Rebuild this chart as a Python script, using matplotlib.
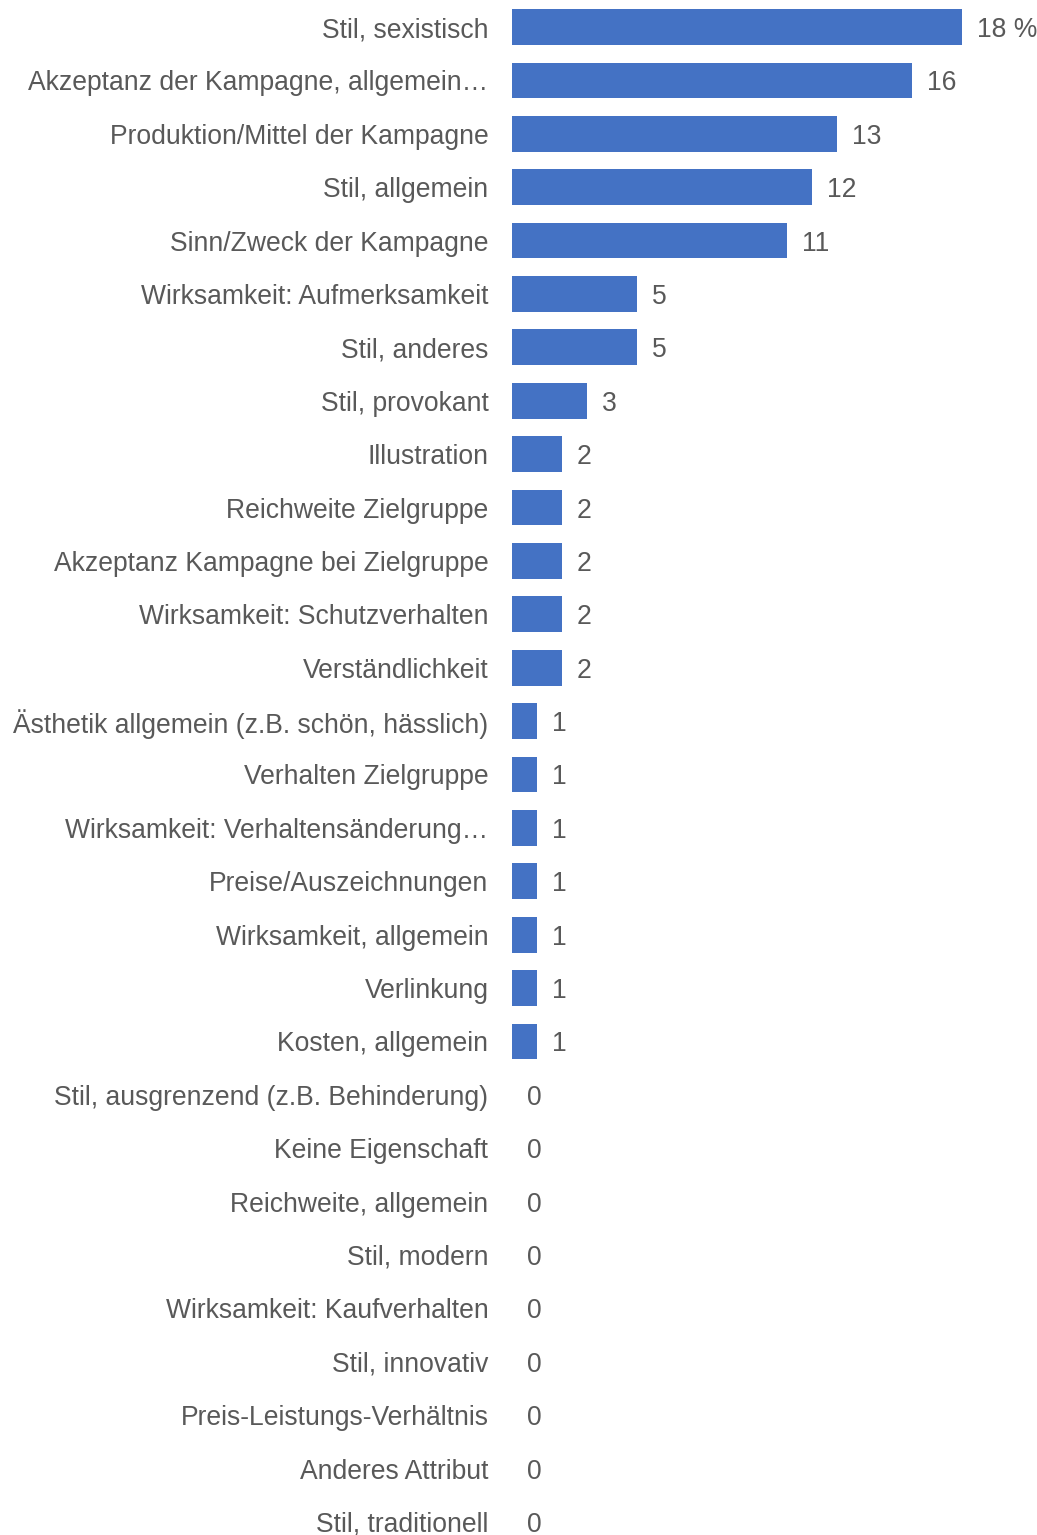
import matplotlib
matplotlib.use("Agg")
import matplotlib.pyplot as plt

categories = [
    "Stil, sexistisch",
    "Akzeptanz der Kampagne, allgemein…",
    "Produktion/Mittel der Kampagne",
    "Stil, allgemein",
    "Sinn/Zweck der Kampagne",
    "Wirksamkeit: Aufmerksamkeit",
    "Stil, anderes",
    "Stil, provokant",
    "Illustration",
    "Reichweite Zielgruppe",
    "Akzeptanz Kampagne bei Zielgruppe",
    "Wirksamkeit: Schutzverhalten",
    "Verständlichkeit",
    "Ästhetik allgemein (z.B. schön, hässlich)",
    "Verhalten Zielgruppe",
    "Wirksamkeit: Verhaltensänderung…",
    "Preise/Auszeichnungen",
    "Wirksamkeit, allgemein",
    "Verlinkung",
    "Kosten, allgemein",
    "Stil, ausgrenzend (z.B. Behinderung)",
    "Keine Eigenschaft",
    "Reichweite, allgemein",
    "Stil, modern",
    "Wirksamkeit: Kaufverhalten",
    "Stil, innovativ",
    "Preis-Leistungs-Verhältnis",
    "Anderes Attribut",
    "Stil, traditionell",
]
values = [18, 16, 13, 12, 11, 5, 5, 3, 2, 2, 2, 2, 2, 1, 1, 1, 1, 1, 1, 1,
          0, 0, 0, 0, 0, 0, 0, 0, 0]
value_labels = [f"{v} %" if i == 0 else str(v) for i, v in enumerate(values)]

plt.rcParams['font.family'] = ['Liberation Sans', 'DejaVu Sans']

fig = plt.figure(figsize=(10.37, 15.35), dpi=100)
ax = fig.add_axes([512 / 1037, 0, 1 - 512 / 1037, 1])

bar_color = "#4472C4"
text_color = "#595959"
fs = 19.1
ypos = list(range(len(categories)))
ax.barh(ypos, values, height=0.67, color=bar_color)

for y, v, lab in zip(ypos, values, value_labels):
    ax.annotate(lab, xy=(v, y), xytext=(10.5, 0), textcoords="offset points",
                ha="left", va="center_baseline", fontsize=fs, color=text_color)

ax.set_yticks(ypos)
ax.set_yticklabels(categories, fontsize=fs, color=text_color)
ax.tick_params(axis='y', length=0, pad=17)
ax.set_xticks([])
ax.set_xlim(0, 21)
ax.set_ylim(28.245, -0.506)
for s in ax.spines.values():
    s.set_visible(False)

fig.savefig("out.png", dpi=100)
